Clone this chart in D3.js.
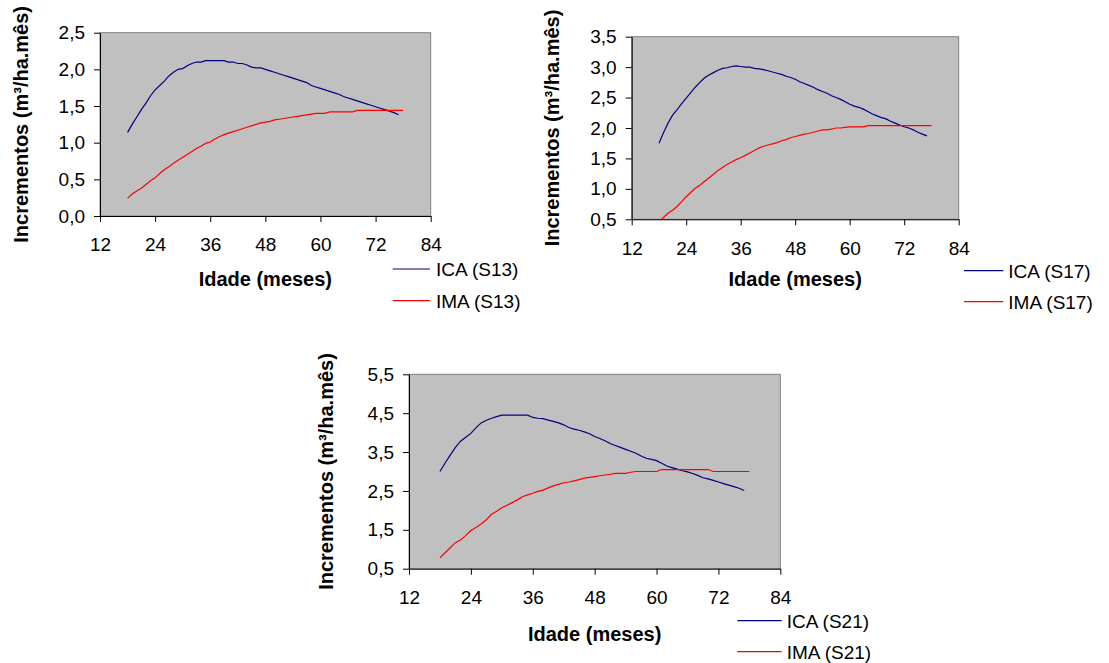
<!DOCTYPE html>
<html>
<head>
<meta charset="utf-8">
<script src="https://cdn.jsdelivr.net/npm/d3@7"></script>
<style>
  body { margin: 0; background: #fff; }
  svg { display: block; font-family: "Liberation Sans", Arial, sans-serif; }
  .tick text { font-size: 19px; fill: #000; }
  .tick line, .domain { stroke: #000; }
</style>
</head>
<body>
<div class="chart"></div>
<script>
// monthly ages (months)
const agesICA = d3.range(18, 78);
const agesIMA = d3.range(18, 79);

const icaS13 = [1.14, 1.25, 1.35, 1.45, 1.54, 1.64, 1.72, 1.78, 1.84, 1.91, 1.96, 2.00, 2.01, 2.05, 2.08, 2.10, 2.10, 2.12, 2.12, 2.12,
  2.12, 2.12, 2.10, 2.10, 2.08, 2.08, 2.06, 2.03, 2.02, 2.02, 2.00, 1.98, 1.96, 1.94, 1.92, 1.90, 1.88, 1.86, 1.84, 1.82,
  1.78, 1.76, 1.74, 1.72, 1.70, 1.68, 1.66, 1.63, 1.61, 1.59, 1.57, 1.55, 1.53, 1.51, 1.49, 1.47, 1.45, 1.43, 1.41, 1.38];
const imaS13 = [0.24, 0.30, 0.34, 0.38, 0.43, 0.48, 0.52, 0.58, 0.63, 0.67, 0.72, 0.76, 0.80, 0.84, 0.88, 0.92, 0.95, 0.99, 1.01, 1.05,
  1.08, 1.11, 1.13, 1.15, 1.17, 1.19, 1.21, 1.23, 1.25, 1.27, 1.28, 1.29, 1.31, 1.32, 1.33, 1.34, 1.35, 1.36, 1.37, 1.38,
  1.39, 1.40, 1.40, 1.40, 1.42, 1.42, 1.42, 1.42, 1.42, 1.42, 1.44, 1.44, 1.44, 1.44, 1.44, 1.44, 1.44, 1.44, 1.44, 1.44, 1.44];

const icaS17 = [1.75, 1.92, 2.08, 2.21, 2.30, 2.40, 2.49, 2.58, 2.67, 2.75, 2.82, 2.87, 2.91, 2.95, 2.98, 2.99, 3.01, 3.02, 3.01, 3.00,
  3.00, 2.98, 2.97, 2.96, 2.94, 2.92, 2.90, 2.88, 2.85, 2.83, 2.80, 2.76, 2.73, 2.70, 2.67, 2.63, 2.60, 2.57, 2.53, 2.50,
  2.47, 2.43, 2.39, 2.36, 2.34, 2.31, 2.27, 2.23, 2.20, 2.17, 2.15, 2.11, 2.08, 2.05, 2.02, 2.00, 1.97, 1.93, 1.90, 1.87];
const imaS17 = [0.46, 0.53, 0.60, 0.65, 0.71, 0.79, 0.87, 0.94, 1.01, 1.06, 1.12, 1.18, 1.24, 1.30, 1.35, 1.40, 1.44, 1.48, 1.51, 1.55,
  1.59, 1.63, 1.67, 1.70, 1.72, 1.74, 1.76, 1.79, 1.81, 1.84, 1.86, 1.88, 1.90, 1.91, 1.93, 1.95, 1.97, 1.97, 1.98, 2.00,
  2.00, 2.01, 2.02, 2.02, 2.02, 2.02, 2.04, 2.04, 2.04, 2.04, 2.04, 2.04, 2.04, 2.04, 2.04, 2.04, 2.04, 2.04, 2.04, 2.04, 2.04];

const icaS21 = [3.00, 3.22, 3.42, 3.62, 3.78, 3.88, 3.98, 4.13, 4.25, 4.32, 4.37, 4.41, 4.45, 4.45, 4.45, 4.45, 4.45, 4.45, 4.39, 4.37,
  4.36, 4.32, 4.29, 4.25, 4.20, 4.13, 4.09, 4.06, 4.02, 3.97, 3.90, 3.85, 3.79, 3.72, 3.67, 3.62, 3.57, 3.52, 3.47, 3.40,
  3.34, 3.31, 3.28, 3.21, 3.14, 3.10, 3.06, 3.02, 2.99, 2.95, 2.90, 2.84, 2.81, 2.77, 2.73, 2.69, 2.65, 2.61, 2.57, 2.51];
const imaS21 = [0.78, 0.91, 1.04, 1.17, 1.24, 1.35, 1.48, 1.56, 1.65, 1.76, 1.90, 1.98, 2.07, 2.13, 2.20, 2.27, 2.35, 2.40, 2.44, 2.49,
  2.52, 2.58, 2.63, 2.67, 2.71, 2.73, 2.76, 2.79, 2.83, 2.85, 2.87, 2.89, 2.91, 2.93, 2.95, 2.95, 2.95, 2.98, 3.00, 3.00,
  3.00, 3.00, 3.00, 3.05, 3.05, 3.05, 3.05, 3.05, 3.05, 3.05, 3.05, 3.05, 3.05, 3.00, 3.00, 3.00, 3.00, 3.00, 3.00, 3.00, 3.00];

const xTicks = [12, 24, 36, 48, 60, 72, 84];
const yTicksS13 = [0, 0.5, 1, 1.5, 2, 2.5];
const yTicksS17 = [0.5, 1, 1.5, 2, 2.5, 3, 3.5];
const yTicksS21 = [0.5, 1.5, 2.5, 3.5, 4.5, 5.5];

const yTitle = 'Incrementos (m³/ha.mês)';
const xTitle = 'Idade (meses)';
const icaColor = '#000080';
const imaColor = '#ff0000';

const ptBR = d3.formatLocale({decimal: ',', thousands: '.', grouping: [3], currency: ['R$', '']});
const yFormat = ptBR.format('.1f');

const svg = d3.select('.chart').append('svg')
    .attr('width', 1109)
    .attr('height', 663);

const drawChart = function (cfg) {
  const g = svg.append('g').attr('class', 'panel ' + cfg.id);
  const p = cfg.plot;

  const x = d3.scaleLinear().domain([12, 84]).range([p.x0, p.x1]);
  const y = d3.scaleLinear().domain(d3.extent(cfg.yTicks)).range([p.y1, p.y0]);

  // plot area
  g.append('rect')
      .attr('x', p.x0).attr('y', p.y0)
      .attr('width', p.x1 - p.x0).attr('height', p.y1 - p.y0)
      .attr('fill', '#c0c0c0')
      .attr('stroke', '#808080')
      .attr('stroke-width', 1);

  g.append('clipPath').attr('id', 'clip-' + cfg.id)
    .append('rect')
      .attr('x', p.x0).attr('y', p.y0)
      .attr('width', p.x1 - p.x0).attr('height', p.y1 - p.y0);

  g.append('g')
      .attr('class', 'axis axis--x')
      .attr('transform', `translate(0,${p.y1})`)
      .call(d3.axisBottom(x).tickValues(xTicks).tickSize(6).tickSizeOuter(0).tickPadding(16));

  g.append('g')
      .attr('class', 'axis axis--y')
      .attr('transform', `translate(${p.x0},0)`)
      .call(d3.axisLeft(y).tickValues(cfg.yTicks).tickFormat(yFormat).tickSize(6).tickSizeOuter(0).tickPadding(9));

  // let the page font apply to tick labels
  g.selectAll('.axis').attr('font-size', null).attr('font-family', null);

  const line = d3.line()
      .x(d => x(d[0]))
      .y(d => y(d[1]));

  const series = [
    {ages: agesICA, values: cfg.ica, color: icaColor, name: `ICA (${cfg.id})`},
    {ages: agesIMA, values: cfg.ima, color: imaColor, name: `IMA (${cfg.id})`}
  ];

  g.append('g')
      .attr('clip-path', `url(#clip-${cfg.id})`)
    .selectAll('path')
    .data(series)
    .enter().append('path')
      .attr('d', s => line(d3.zip(s.ages, s.values)))
      .attr('fill', 'none')
      .attr('stroke', s => s.color)
      .attr('stroke-width', 1.2);

  // axis titles
  g.append('text')
      .attr('x', (p.x0 + p.x1) / 2)
      .attr('y', cfg.xTitleY)
      .attr('text-anchor', 'middle')
      .attr('font-size', 20)
      .attr('font-weight', 'bold')
      .text(xTitle);

  g.append('text')
      .attr('transform', `translate(${cfg.yTitleX},${(p.y0 + p.y1) / 2}) rotate(-90)`)
      .attr('text-anchor', 'middle')
      .attr('font-size', 20)
      .attr('font-weight', 'bold')
      .text(yTitle);

  // legend
  const lg = cfg.legend;
  const items = g.append('g').attr('class', 'legend')
    .selectAll('g')
    .data(series)
    .enter().append('g')
      .attr('transform', (d, i) => `translate(0,${lg.y + i * lg.step})`);
  items.append('line')
      .attr('x1', lg.x0).attr('x2', lg.x1)
      .attr('stroke', d => d.color)
      .attr('stroke-width', 1.2);
  items.append('text')
      .attr('x', lg.tx)
      .attr('y', 7)
      .attr('font-size', 19)
      .text(d => d.name);
};

drawChart({
  id: 'S13', ica: icaS13, ima: imaS13, yTicks: yTicksS13,
  plot: {x0: 100, x1: 430.7, y0: 32.7, y1: 216},
  xTitleY: 285.7, yTitleX: 28,
  legend: {x0: 392.7, x1: 430, tx: 436, y: 269, step: 31.7}
});

drawChart({
  id: 'S17', ica: icaS17, ima: imaS17, yTicks: yTicksS17,
  plot: {x0: 631.7, x1: 958.7, y0: 36.7, y1: 219.3},
  xTitleY: 286, yTitleX: 559,
  legend: {x0: 964, x1: 1003.3, tx: 1008.3, y: 270.7, step: 31}
});

drawChart({
  id: 'S21', ica: icaS21, ima: imaS21, yTicks: yTicksS21,
  plot: {x0: 409, x1: 780.3, y0: 374.3, y1: 568.7},
  xTitleY: 641, yTitleX: 333,
  legend: {x0: 737.3, x1: 781.7, tx: 786.7, y: 620.7, step: 31}
});
</script>
</body>
</html>
